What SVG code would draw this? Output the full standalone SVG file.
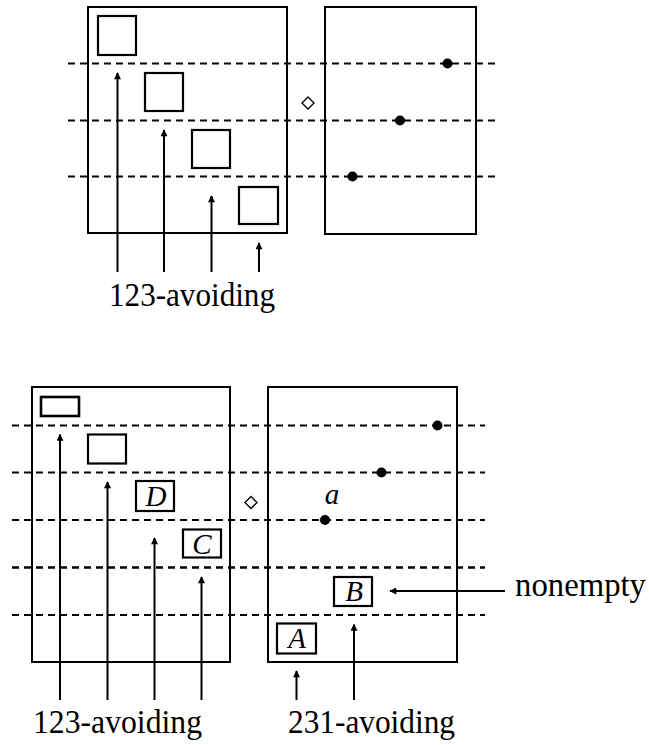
<svg xmlns="http://www.w3.org/2000/svg" width="649" height="745" viewBox="0 0 649 745">
<style>
.frame{fill:none;stroke:#000;stroke-width:2}
.box{fill:none;stroke:#000;stroke-width:2.2}
.dash{stroke:#000;stroke-width:2;stroke-dasharray:7 5;fill:none}
.arr{stroke:#000;stroke-width:2;fill:none;marker-end:url(#ah)}
.dot{fill:#000}
.dia{fill:#fff;stroke:#000;stroke-width:1.3}
.lbl{font-family:"Liberation Serif",serif;font-size:33px;fill:#000}
.it{font-family:"Liberation Serif",serif;font-style:italic;font-size:29px;fill:#000;text-anchor:middle}
</style>
<defs>
<marker id="ah" viewBox="0 0 10 10" refX="9" refY="5" markerWidth="5.5" markerHeight="3.5" orient="auto" markerUnits="strokeWidth">
<path d="M0,0 L10,5 L0,10 z" fill="#000"/>
</marker>
</defs>
<g id="top-left">
<rect class="frame" x="88" y="7" width="199" height="226"/>
<rect class="box" x="98" y="16" width="38" height="39"/>
<rect class="box" x="145" y="73" width="38" height="38"/>
<rect class="box" x="192" y="130" width="38" height="38"/>
<rect class="box" x="239" y="187" width="39" height="37"/>
</g>
<g id="top-diamond"><path class="dia" d="M308,97 L314,103 L308,109 L302,103 z"/></g>
<g id="top-right">
<rect class="frame" x="325" y="7" width="151" height="227"/>
<circle class="dot" cx="447.5" cy="63.5" r="5"/>
<circle class="dot" cx="400" cy="120.5" r="5"/>
<circle class="dot" cx="352.5" cy="176.5" r="5"/>
</g>
<g id="top-connectors">
<line class="dash" x1="68" y1="63.5" x2="495" y2="63.5"/>
<line class="dash" x1="68" y1="120.5" x2="495" y2="120.5"/>
<line class="dash" x1="68" y1="176.5" x2="495" y2="176.5"/>
<line class="arr" x1="117.5" y1="272" x2="117.5" y2="73"/>
<line class="arr" x1="164" y1="272" x2="164" y2="130"/>
<line class="arr" x1="211.5" y1="272" x2="211.5" y2="196"/>
<line class="arr" x1="259" y1="272" x2="259" y2="243"/>
</g>
<text class="lbl" x="109" y="306" textLength="166" lengthAdjust="spacingAndGlyphs">123-avoiding</text>

<g id="bot-left">
<rect class="frame" x="32" y="387" width="198" height="275"/>
<rect class="box" x="41" y="397" width="38" height="19" style="stroke-width:2.6"/>
<rect class="box" x="88" y="434.5" width="38" height="29"/>
<rect class="box" x="136" y="481" width="38" height="30"/>
<text class="it" x="156" y="506">D</text>
<rect class="box" x="183" y="529.5" width="38" height="28"/>
<text class="it" x="202" y="553.5">C</text>
</g>
<g id="bot-diamond"><path class="dia" d="M251,496.5 L257,502.5 L251,508.5 L245,502.5 z"/></g>
<g id="bot-right">
<rect class="frame" x="268" y="387" width="189" height="275"/>
<circle class="dot" cx="437.5" cy="425.5" r="5"/>
<circle class="dot" cx="381.5" cy="472.5" r="5"/>
<circle class="dot" cx="325" cy="520" r="5"/>
<text class="it" x="332" y="504">a</text>
<rect class="box" x="334" y="577" width="38" height="29"/>
<text class="it" x="354" y="601">B</text>
<rect class="box" x="277" y="623.5" width="39" height="30"/>
<text class="it" x="297" y="648">A</text>
</g>
<g id="bot-connectors">
<line class="dash" x1="12" y1="425.5" x2="485" y2="425.5"/>
<line class="dash" x1="12" y1="472.5" x2="485" y2="472.5"/>
<line class="dash" x1="12" y1="520" x2="485" y2="520"/>
<line class="dash" x1="12" y1="567.5" x2="485" y2="567.5" style="stroke-width:2.6"/>
<line class="dash" x1="12" y1="615" x2="485" y2="615"/>
<line class="arr" x1="60" y1="700" x2="60" y2="434.5"/>
<line class="arr" x1="107.5" y1="700" x2="107.5" y2="482"/>
<line class="arr" x1="154.5" y1="700" x2="154.5" y2="538"/>
<line class="arr" x1="201.5" y1="700" x2="201.5" y2="577"/>
<line class="arr" x1="296.5" y1="700" x2="296.5" y2="671"/>
<line class="arr" x1="354" y1="700" x2="354" y2="624.5"/>
<line class="arr" x1="505" y1="591" x2="390" y2="591"/>
</g>
<text class="lbl" x="515" y="596" textLength="131" lengthAdjust="spacingAndGlyphs">nonempty</text>
<text class="lbl" x="33" y="733" textLength="169" lengthAdjust="spacingAndGlyphs">123-avoiding</text>
<text class="lbl" x="288" y="733" textLength="167" lengthAdjust="spacingAndGlyphs">231-avoiding</text>
</svg>
